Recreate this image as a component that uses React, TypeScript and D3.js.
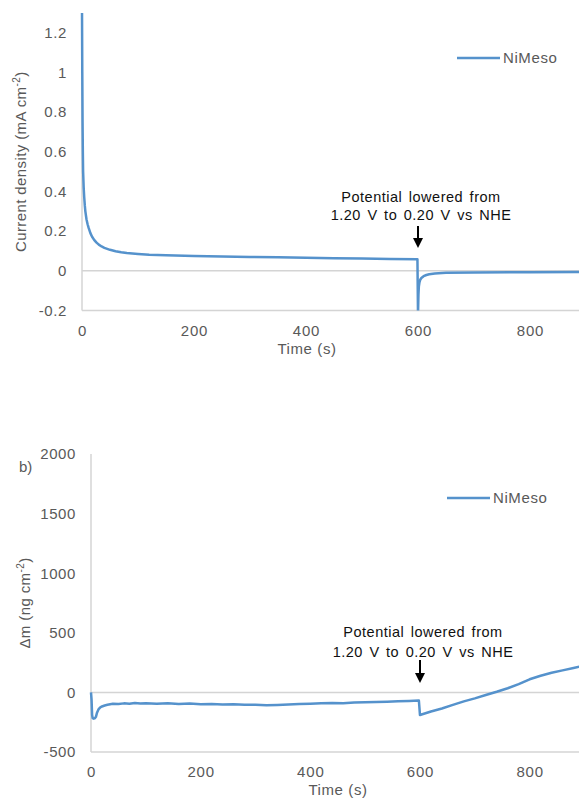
import React, { useEffect, useRef } from 'react';
import * as d3 from 'd3';

// (a) current density vs time
const currentTime = [
  0, 0.5, 1, 1.5, 2, 3, 4, 5, 6, 8, 10, 12, 15, 18, 22, 26, 30, 35, 40, 50, 60, 70, 80, 100, 120, 150, 200,
  250, 300, 350, 400, 450, 500, 550, 599, 600, 600.8, 601.5, 602.5, 604, 606, 610, 615, 620, 630, 650, 700,
  800, 900, 1000,
];
const currentDensity = [
  1.32, 1.0, 0.75, 0.6, 0.5, 0.42, 0.37, 0.33, 0.3, 0.26, 0.235, 0.215, 0.19, 0.172, 0.155, 0.142, 0.132,
  0.123, 0.116, 0.106, 0.099, 0.094, 0.09, 0.085, 0.081, 0.078, 0.075, 0.072, 0.07, 0.068, 0.066, 0.064,
  0.062, 0.06, 0.058, -0.22, -0.12, -0.08, -0.06, -0.045, -0.036, -0.027, -0.021, -0.017, -0.013, -0.01,
  -0.008, -0.007, -0.006, -0.005,
];

// (b) mass change vs time
const massTime = [
  0, 1, 2, 3, 5, 7, 9, 11, 14, 17, 20, 25, 30, 35, 40, 50, 60, 70, 80, 90, 100, 120, 140, 160, 180, 200, 220,
  240, 260, 280, 300, 320, 340, 360, 380, 400, 420, 440, 460, 480, 500, 520, 540, 560, 580, 598, 600, 610,
  620, 640, 660, 680, 700, 720, 740, 760, 780, 800, 820, 840, 860, 880, 900,
];
const massChange = [
  0, -60, -190, -215, -220, -218, -205, -170, -140, -125, -118, -110, -104, -100, -96, -98, -92, -95, -88,
  -93, -90, -95, -92, -97, -94, -100, -97, -101, -99, -104, -103, -108, -105, -102, -97, -95, -92, -88, -90,
  -85, -83, -80, -78, -75, -72, -68, -190, -175, -160, -135, -105, -75, -50, -22, 5, 35, 70, 110, 140, 165,
  185, 205, 225,
];

const timeTicks = [0, 200, 400, 600, 800];
const currentTicks = [-0.2, 0, 0.2, 0.4, 0.6, 0.8, 1, 1.2];
const massTicks = [-500, 0, 500, 1000, 1500, 2000];

const seriesName = 'NiMeso';
const noteLines = ['Potential lowered from', '1.20 V to 0.20 V vs NHE'];

const BLUE = '#5592cc';
const GRID = '#d4d4d4';
const TEXT = '#595959';
const FONT = '"Liberation Sans", Arial, sans-serif';

type PanelCfg = {
  id: string;
  t: number[];
  v: number[];
  xRange: [number, number];
  yDomain: [number, number];
  yRange: [number, number];
  yTicks: number[];
  fmt: (d: number) => string;
  yTitle: string;
  yTitleSup: string;
  yTitleX: number;
  xTitle: [number, number];
  legend: [number, number];
  noteY: number[];
  arrow: [number, number];
};

function drawPanel(g: d3.Selection<SVGGElement, unknown, null, undefined>, cfg: PanelCfg) {
  const x = d3.scaleLinear().domain([0, 1000]).range(cfg.xRange);
  const y = d3.scaleLinear().domain(cfg.yDomain).range(cfg.yRange);
  const [x0] = cfg.xRange;
  const [yb, yt] = cfg.yRange;

  // gray frame lines and zero line
  g.append('line').attr('x1', x0).attr('x2', 579).attr('y1', yb).attr('y2', yb).attr('stroke', GRID).attr('stroke-width', 1.5);
  g.append('line').attr('x1', x0).attr('x2', 579).attr('y1', y(0)).attr('y2', y(0)).attr('stroke', GRID).attr('stroke-width', 1.5);
  g.append('line').attr('x1', x0).attr('x2', x0).attr('y1', yt).attr('y2', yb).attr('stroke', GRID).attr('stroke-width', 1.5);

  // axes (labels only)
  g.append('g')
    .attr('transform', `translate(${x0},0)`)
    .call(d3.axisLeft(y).tickValues(cfg.yTicks).tickSize(0).tickPadding(15).tickFormat((d) => cfg.fmt(+d)))
    .call((a) => a.select('.domain').remove())
    .call((a) => a.selectAll('text').attr('fill', TEXT).attr('font-size', 15).attr('font-family', FONT).attr('letter-spacing', 0.6));

  g.append('g')
    .attr('transform', `translate(0,${yb})`)
    .call(d3.axisBottom(x).tickValues(timeTicks).tickSize(0).tickPadding(14.5).tickFormat((d) => String(d)))
    .call((a) => a.select('.domain').remove())
    .call((a) => a.selectAll('text').attr('fill', TEXT).attr('font-size', 15).attr('font-family', FONT).attr('letter-spacing', 0.8));

  // data line, clipped to plot area
  g.append('clipPath')
    .attr('id', `clip-${cfg.id}`)
    .append('rect')
    .attr('x', x0 - 2)
    .attr('y', yt)
    .attr('width', 1000)
    .attr('height', yb - yt);

  const line = d3
    .line<number>()
    .x((d, i) => x(cfg.t[i]))
    .y((d) => y(d));

  g.append('path')
    .datum(cfg.v)
    .attr('clip-path', `url(#clip-${cfg.id})`)
    .attr('d', line)
    .attr('fill', 'none')
    .attr('stroke', BLUE)
    .attr('stroke-width', 2.5)
    .attr('stroke-linejoin', 'round');

  // axis titles
  g.append('text')
    .attr('x', cfg.xTitle[0])
    .attr('y', cfg.xTitle[1])
    .attr('text-anchor', 'middle')
    .attr('fill', TEXT)
    .attr('font-size', 15)
    .attr('font-family', FONT)
    .attr('letter-spacing', 0.6)
    .text('Time  (s)');

  const yt2 = g
    .append('text')
    .attr('transform', `translate(${cfg.yTitleX},${(yt + yb) / 2}) rotate(-90)`)
    .attr('text-anchor', 'middle')
    .attr('fill', TEXT)
    .attr('font-size', 15)
    .attr('font-family', FONT)
    .attr('letter-spacing', 0.4);
  yt2.append('tspan').text(cfg.yTitle);
  yt2.append('tspan').attr('font-size', 10).attr('dy', -6).text(cfg.yTitleSup);
  yt2.append('tspan').attr('dy', 6).text(')');

  // legend
  const [lx, ly] = cfg.legend;
  g.append('line').attr('x1', lx).attr('x2', lx + 43).attr('y1', ly).attr('y2', ly).attr('stroke', BLUE).attr('stroke-width', 2.5);
  g.append('text')
    .attr('x', lx + 46)
    .attr('y', ly + 5)
    .attr('fill', TEXT)
    .attr('font-size', 15)
    .attr('font-family', FONT)
    .attr('letter-spacing', 0.6)
    .text(seriesName);

  // annotation
  const ax = x(600);
  noteLines.forEach((s, i) => {
    g.append('text')
      .attr('x', ax + 3)
      .attr('y', cfg.noteY[i])
      .attr('text-anchor', 'middle')
      .attr('fill', '#111')
      .attr('font-size', 14.5)
      .attr('font-family', FONT)
      .attr('letter-spacing', 0.5)
      .attr('word-spacing', 2)
      .text(s);
  });
  const [a0, a1] = cfg.arrow;
  g.append('line').attr('x1', ax).attr('x2', ax).attr('y1', a0).attr('y2', a1 - 8).attr('stroke', '#000').attr('stroke-width', 2);
  g.append('path')
    .attr('d', `M${ax - 5},${a1 - 10}L${ax + 5},${a1 - 10}L${ax},${a1}Z`)
    .attr('fill', '#000');
}

const fmt1 = (d: number) => String(+d.toFixed(1));
const fmt0 = (d: number) => String(d);

export default function App() {
  const svgRef = useRef<SVGSVGElement>(null);

  useEffect(() => {
    const svg = d3.select(svgRef.current);
    svg.selectAll('*').remove();

    drawPanel(svg.append('g'), {
      id: 'a',
      t: currentTime,
      v: currentDensity,
      xRange: [82, 642],
      yDomain: [-0.2, 1.3],
      yRange: [310.5, 13],
      yTicks: currentTicks,
      fmt: fmt1,
      yTitle: 'Current density  (mA cm',
      yTitleSup: '-2',
      yTitleX: 26,
      xTitle: [307, 354],
      legend: [457, 58],
      noteY: [202, 220],
      arrow: [226, 248],
    });

    drawPanel(svg.append('g'), {
      id: 'b',
      t: massTime,
      v: massChange,
      xRange: [91, 639.3],
      yDomain: [-500, 2000],
      yRange: [752, 454],
      yTicks: massTicks,
      fmt: fmt0,
      yTitle: 'Δm  (ng cm',
      yTitleSup: '-2',
      yTitleX: 30,
      xTitle: [338, 795],
      legend: [447, 498],
      noteY: [637, 657],
      arrow: [660, 683],
    });

    svg
      .append('text')
      .attr('x', 19)
      .attr('y', 472)
      .attr('fill', TEXT)
      .attr('font-size', 15)
      .attr('font-family', FONT)
      .text('b)');
  }, []);

  return (
    <div style={{ position: 'absolute', left: 0, top: 0, width: 579, height: 800, overflow: 'hidden', background: '#fff' }}>
      <svg ref={svgRef} width={579} height={800} />
    </div>
  );
}
